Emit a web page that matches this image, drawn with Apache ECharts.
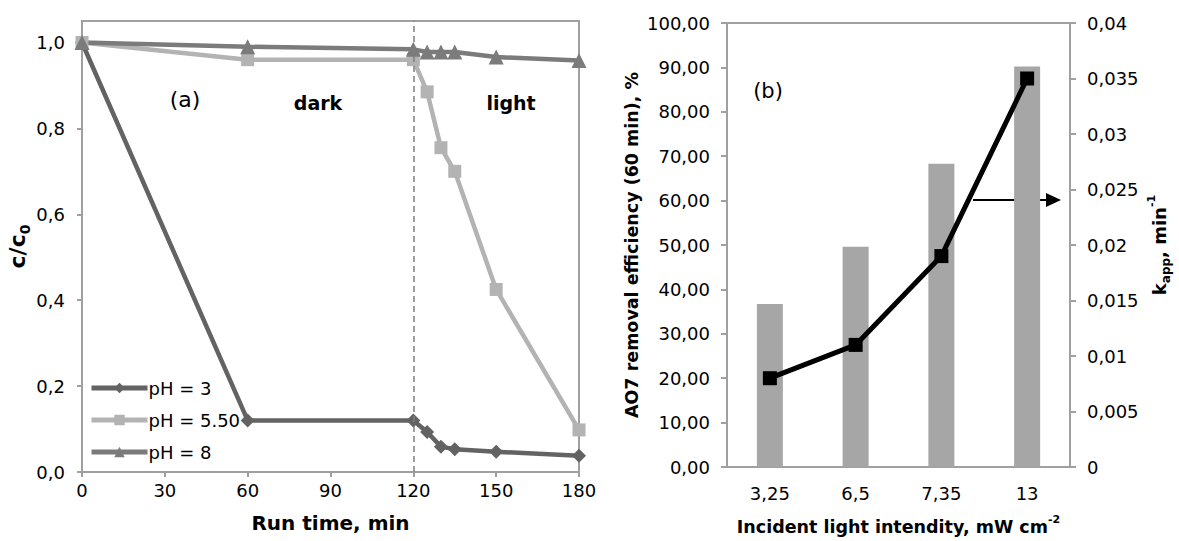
<!DOCTYPE html>
<html>
<head>
<meta charset="utf-8">
<script src="https://cdn.jsdelivr.net/npm/echarts@6/dist/echarts.min.js"></script>
<style>
html,body{margin:0;padding:0;background:#fff;}
#c{width:1179px;height:541px;}
</style>
</head>
<body>
<div id="c"></div>
<script>
// ---- Data (a) ----
const timeMin = [0, 60, 120, 125, 130, 135, 150, 180];
const pH3 = [1.0, 0.12, 0.12, 0.093, 0.059, 0.053, 0.047, 0.038];
const pH550 = [1.0, 0.96, 0.96, 0.885, 0.755, 0.70, 0.425, 0.098];
const pH8 = [1.0, 0.99, 0.984, 0.978, 0.978, 0.978, 0.966, 0.958];
const seriesNames = ['pH = 3', 'pH = 5.50', 'pH = 8'];
const yTicksA = [0, 0.2, 0.4, 0.6, 0.8, 1.0];
// ---- Data (b) ----
const intensity = ['3,25', '6,5', '7,35', '13'];
const removal = [36.7, 49.6, 68.3, 90.2];
const kapp = [0.008, 0.011, 0.019, 0.035];

const FONT = 'DejaVu Sans';
const AX = '#a0a0a0';
const pairs = (ys) => timeMin.map((t, i) => [t, ys[i]]);
const comma = (s) => String(s).replace('.', ',');

const chart = echarts.init(document.getElementById('c'), null, {renderer: 'svg'});
chart.setOption({
  animation: false,
  backgroundColor: '#fff',
  textStyle: {fontFamily: FONT, color: '#000'},
  grid: [
    {left: 82, top: 21, width: 497, height: 451, show: true, borderColor: AX, borderWidth: 2, containLabel: false},
    {left: 727, top: 23, width: 343, height: 448, show: true, borderColor: AX, borderWidth: 2, containLabel: false}
  ],
  legend: {
    data: seriesNames,
    orient: 'vertical',
    left: 84, top: 374,
    itemWidth: 56, itemHeight: 13, itemGap: 14,
    lineStyle: {width: 5},
    textStyle: {fontFamily: FONT, fontSize: 18, color: '#000', padding: [0, 0, 0, -4]}
  },
  xAxis: [
    {type: 'value', gridIndex: 0, min: 0, max: 180, interval: 30,
     axisLine: {lineStyle: {color: AX, width: 2}},
     axisTick: {show: true, inside: false, length: 5, lineStyle: {color: AX, width: 2}},
     axisLabel: {fontFamily: FONT, fontSize: 18, color: '#000', margin: 9},
     splitLine: {show: false},
     name: 'Run time, min', nameLocation: 'middle', nameGap: 41,
     nameTextStyle: {fontFamily: FONT, fontSize: 20, fontWeight: 'bold', color: '#000'}},
    {type: 'category', gridIndex: 1, data: intensity,
     axisLine: {lineStyle: {color: AX, width: 2}},
     axisTick: {show: false},
     axisLabel: {fontFamily: FONT, fontSize: 18, color: '#000', margin: 17},
     name: '{b|Incident light intendity, mW cm}{s|-2}', nameLocation: 'middle', nameGap: 47,
     nameTextStyle: {rich: {
       b: {fontFamily: FONT, fontSize: 17.5, fontWeight: 'bold', color: '#000', lineHeight: 22, verticalAlign: 'bottom'},
       s: {fontFamily: FONT, fontSize: 11, fontWeight: 'bold', color: '#000', lineHeight: 22, verticalAlign: 'top'}
     }}}
  ],
  yAxis: [
    {type: 'value', gridIndex: 0, min: 0, max: 1.05, interval: 0.2,
     axisLine: {show: true, lineStyle: {color: AX, width: 2}},
     axisTick: {show: true, length: 5, lineStyle: {color: AX, width: 2}, customValues: yTicksA},
     axisLabel: {fontFamily: FONT, fontSize: 18, color: '#000', margin: 17, customValues: yTicksA,
       formatter: (v) => comma(v.toFixed(1))},
     splitLine: {show: false},
     name: '{a|c/c}{s|0}', nameLocation: 'middle', nameGap: 44,
     nameTextStyle: {rich: {
       a: {fontFamily: FONT, fontSize: 22, fontWeight: 'bold', color: '#000', lineHeight: 30, verticalAlign: 'middle'},
       s: {fontFamily: FONT, fontSize: 14, fontWeight: 'bold', color: '#000', lineHeight: 14, verticalAlign: 'bottom'}
     }}},
    {type: 'value', gridIndex: 1, min: 0, max: 100, interval: 10, position: 'left',
     axisLine: {show: true, lineStyle: {color: AX, width: 2}},
     axisTick: {show: true, length: 6, lineStyle: {color: AX, width: 2}},
     axisLabel: {fontFamily: FONT, fontSize: 18, color: '#000', margin: 17,
       formatter: (v) => comma(v.toFixed(2))},
     splitLine: {show: false},
     name: 'AO7 removal efficiency (60 min), %', nameLocation: 'middle', nameGap: 86,
     nameTextStyle: {fontFamily: FONT, fontSize: 17.5, fontWeight: 'bold', color: '#000'}},
    {type: 'value', gridIndex: 1, min: 0, max: 0.04, interval: 0.005, position: 'right',
     axisLine: {show: true, lineStyle: {color: AX, width: 2}},
     axisTick: {show: true, length: 6, lineStyle: {color: AX, width: 2}},
     axisLabel: {fontFamily: FONT, fontSize: 18, color: '#000', margin: 17,
       formatter: (v) => v === 0 ? '0' : comma(+v.toFixed(3))},
     splitLine: {show: false},
     name: '{a|k}{s|app}{a|, min}{p|-1}', nameLocation: 'middle', nameGap: 76,
     nameTextStyle: {rich: {
       a: {fontFamily: FONT, fontSize: 18, fontWeight: 'bold', color: '#000', lineHeight: 26, verticalAlign: 'middle'},
       s: {fontFamily: FONT, fontSize: 12, fontWeight: 'bold', color: '#000', lineHeight: 12, verticalAlign: 'bottom'},
       p: {fontFamily: FONT, fontSize: 11, fontWeight: 'bold', color: '#000', lineHeight: 11, verticalAlign: 'top'}
     }}}
  ],
  series: [
    {name: seriesNames[0], type: 'line', xAxisIndex: 0, yAxisIndex: 0, data: pairs(pH3),
     symbol: 'diamond', symbolSize: 14, color: '#636363',
     lineStyle: {width: 4.5, color: '#636363'}, itemStyle: {color: '#636363'},
     markLine: {silent: true, symbol: 'none', label: {show: false},
       lineStyle: {type: [6, 4], color: '#7f7f7f', width: 1.5},
       data: [{xAxis: 120}]}},
    {name: seriesNames[1], type: 'line', xAxisIndex: 0, yAxisIndex: 0, data: pairs(pH550),
     symbol: 'rect', symbolSize: 13, color: '#b3b3b3',
     lineStyle: {width: 4.5, color: '#b3b3b3'}, itemStyle: {color: '#b3b3b3'}},
    {name: seriesNames[2], type: 'line', xAxisIndex: 0, yAxisIndex: 0, data: pairs(pH8),
     symbol: 'triangle', symbolSize: 15, color: '#7b7b7b',
     lineStyle: {width: 4.5, color: '#7b7b7b'}, itemStyle: {color: '#7b7b7b'}},
    {name: 'removal', type: 'bar', xAxisIndex: 1, yAxisIndex: 1, data: removal,
     barWidth: 26, itemStyle: {color: '#a6a6a6'}},
    {name: 'kapp', type: 'line', xAxisIndex: 1, yAxisIndex: 2, data: kapp,
     symbol: 'rect', symbolSize: 14, z: 5,
     lineStyle: {width: 5, color: '#000'}, itemStyle: {color: '#000'}}
  ],
  graphic: [
    {type: 'text', x: 185, y: 99, style: {text: '(a)', font: '22px "DejaVu Sans"', fill: '#000', textAlign: 'center', textVerticalAlign: 'middle'}},
    {type: 'text', x: 318, y: 103, style: {text: 'dark', font: 'bold 19px "DejaVu Sans"', fill: '#000', textAlign: 'center', textVerticalAlign: 'middle'}},
    {type: 'text', x: 511, y: 103, style: {text: 'light', font: 'bold 19px "DejaVu Sans"', fill: '#000', textAlign: 'center', textVerticalAlign: 'middle'}},
    {type: 'text', x: 768, y: 91, style: {text: '(b)', font: '21px "DejaVu Sans"', fill: '#000', textAlign: 'center', textVerticalAlign: 'middle'}},
    {type: 'line', shape: {x1: 973, y1: 200, x2: 1048, y2: 200}, style: {stroke: '#000', lineWidth: 2}},
    {type: 'polygon', shape: {points: [[1046, 193], [1061, 200], [1046, 207]]}, style: {fill: '#000'}}
  ]
});
</script>
</body>
</html>
